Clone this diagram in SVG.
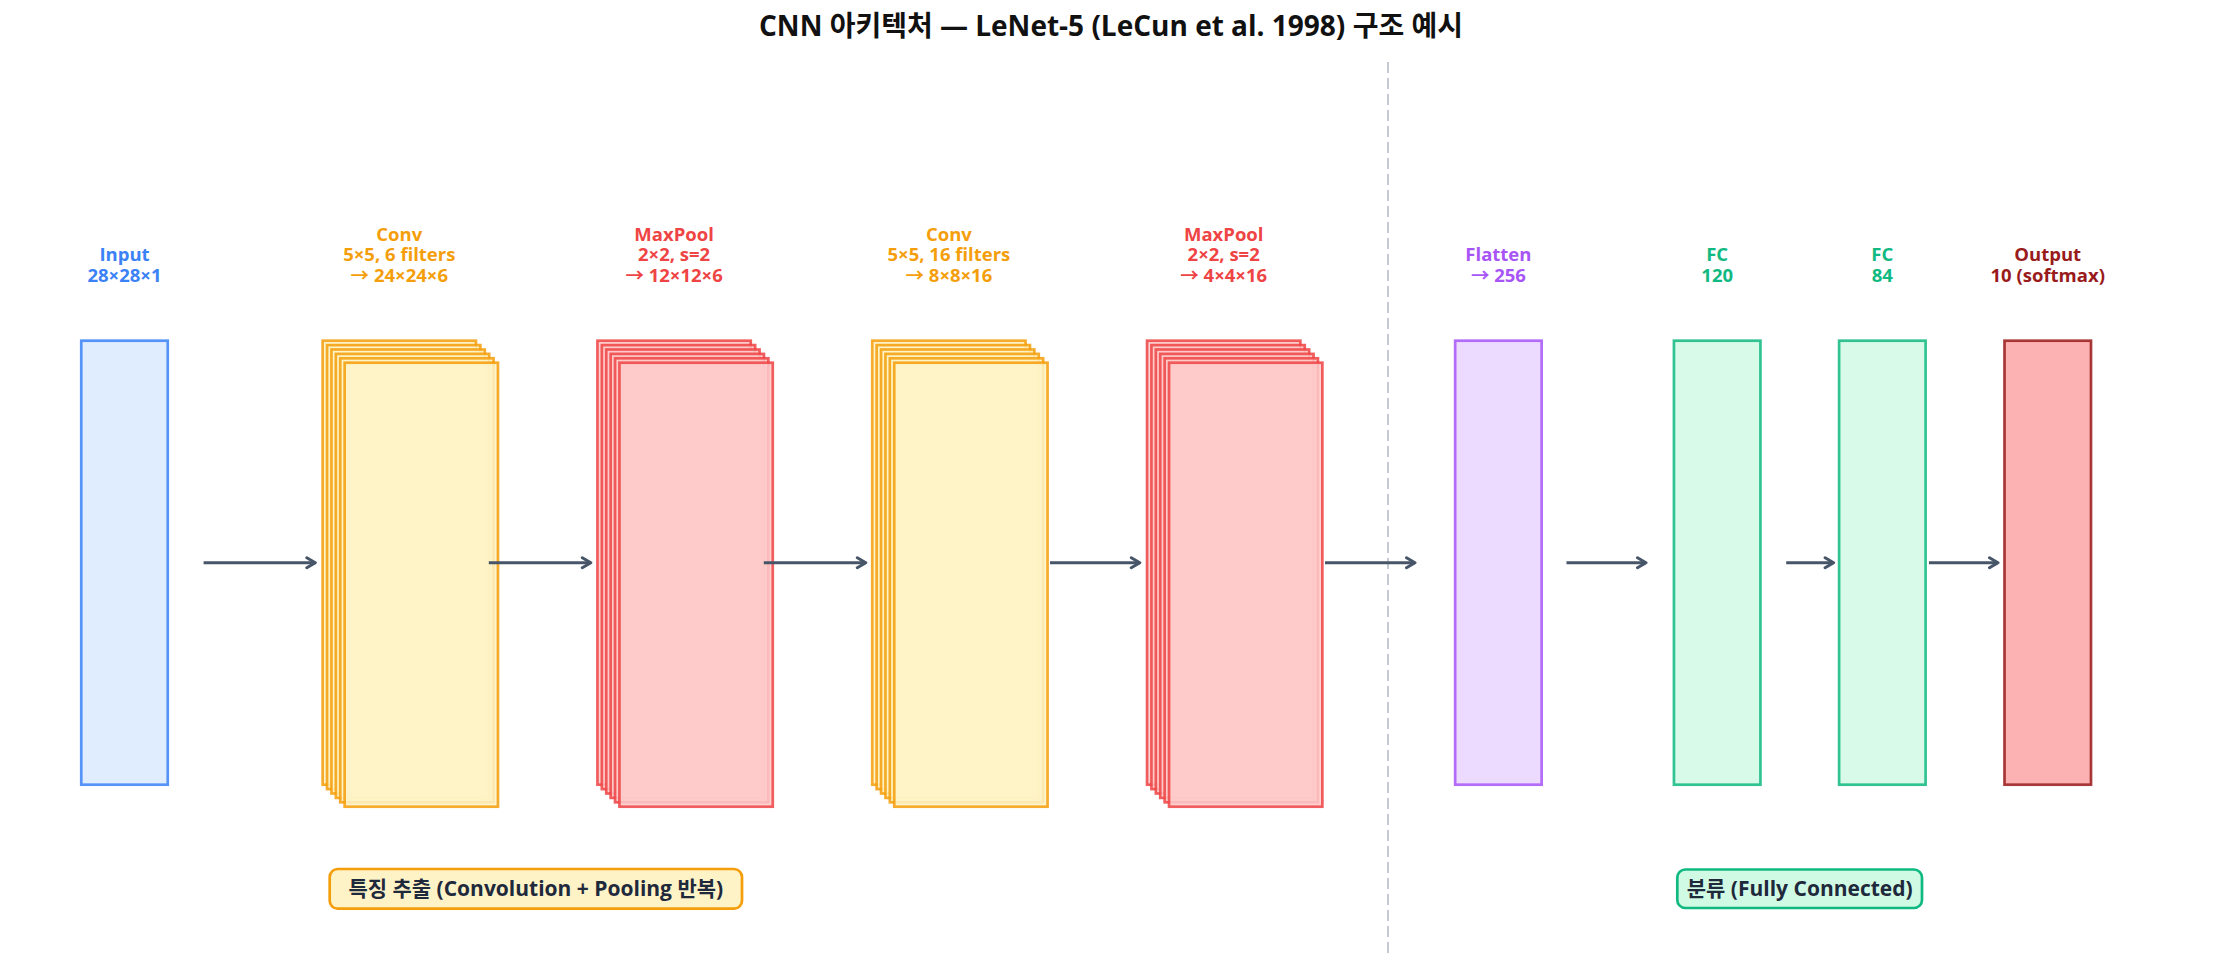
<svg xmlns="http://www.w3.org/2000/svg" width="2226" height="965" viewBox="0 0 2226 965">
<style>
text{font-family:"Open Sans","Noto Sans CJK KR",sans-serif;font-weight:bold;}
.lbl{font-size:18.5px;text-anchor:middle;}
.title{font-size:28px;text-anchor:middle;fill:#111111;}
.sec{font-size:21px;text-anchor:middle;fill:#1E293B;}
.n{stroke-width:2.7;fill-opacity:0.85;stroke-opacity:0.85;}
.blue{fill:#DBEAFE;stroke:#3B82F6;}
.amber{fill:#FEF3C7;stroke:#F59E0B;}
.red{fill:#FECACA;stroke:#EF4444;}
.purple{fill:#E9D5FF;stroke:#A855F7;}
.green{fill:#D1FAE5;stroke:#10B981;}
.out{fill:#FCA5A5;stroke:#991B1B;}
.arrow{stroke:#475569;stroke-width:3;fill:none;marker-end:url(#ah);}
</style>
<defs>
<marker id="ah" markerUnits="userSpaceOnUse" markerWidth="14" markerHeight="14" viewBox="-11 -7 14 14" refX="0" refY="0" orient="auto">
<path d="M-8.5,-5 L0,0 L-8.5,5" fill="none" stroke="#475569" stroke-width="3" stroke-linecap="round" stroke-linejoin="round"/>
</marker>
</defs>
<rect width="2226" height="965" fill="#FFFFFF"/>
<text class="title" x="1111" y="36">CNN 아키텍처 — LeNet-5 (LeCun et al. 1998) 구조 예시</text>
<line x1="1388" y1="62" x2="1388" y2="956" stroke="#C5CAD2" stroke-width="2" stroke-dasharray="11 5"/>

<g id="input">
<rect class="n blue" x="81.25" y="340.7" width="86.5" height="444"/>
<text class="lbl" fill="#3B82F6"><tspan x="124.5" y="261">Input</tspan><tspan x="124.5" y="281.5">28×28×1</tspan></text>
</g>

<g id="conv1">
<rect class="n amber" x="322.65" y="340.7" width="153.3" height="444"/>
<rect class="n amber" x="327.05" y="345.1" width="153.3" height="444"/>
<rect class="n amber" x="331.45" y="349.5" width="153.3" height="444"/>
<rect class="n amber" x="335.85" y="353.9" width="153.3" height="444"/>
<rect class="n amber" x="340.25" y="358.3" width="153.3" height="444"/>
<rect class="n amber" x="344.65" y="362.7" width="153.3" height="444"/>
<text class="lbl" fill="#F59E0B"><tspan x="399.3" y="240.5">Conv</tspan><tspan x="399.3" y="261">5×5, 6 filters</tspan><tspan x="399.3" y="281.5">→ 24×24×6</tspan></text>
</g>

<g id="pool1">
<rect class="n red" x="597.45" y="340.7" width="153.3" height="444"/>
<rect class="n red" x="601.85" y="345.1" width="153.3" height="444"/>
<rect class="n red" x="606.25" y="349.5" width="153.3" height="444"/>
<rect class="n red" x="610.65" y="353.9" width="153.3" height="444"/>
<rect class="n red" x="615.05" y="358.3" width="153.3" height="444"/>
<rect class="n red" x="619.45" y="362.7" width="153.3" height="444"/>
<text class="lbl" fill="#EF4444"><tspan x="674.1" y="240.5">MaxPool</tspan><tspan x="674.1" y="261">2×2, s=2</tspan><tspan x="674.1" y="281.5">→ 12×12×6</tspan></text>
</g>

<g id="conv2">
<rect class="n amber" x="872.25" y="340.7" width="153.3" height="444"/>
<rect class="n amber" x="876.65" y="345.1" width="153.3" height="444"/>
<rect class="n amber" x="881.05" y="349.5" width="153.3" height="444"/>
<rect class="n amber" x="885.45" y="353.9" width="153.3" height="444"/>
<rect class="n amber" x="889.85" y="358.3" width="153.3" height="444"/>
<rect class="n amber" x="894.25" y="362.7" width="153.3" height="444"/>
<text class="lbl" fill="#F59E0B"><tspan x="948.9" y="240.5">Conv</tspan><tspan x="948.9" y="261">5×5, 16 filters</tspan><tspan x="948.9" y="281.5">→ 8×8×16</tspan></text>
</g>

<g id="pool2">
<rect class="n red" x="1147.05" y="340.7" width="153.3" height="444"/>
<rect class="n red" x="1151.45" y="345.1" width="153.3" height="444"/>
<rect class="n red" x="1155.85" y="349.5" width="153.3" height="444"/>
<rect class="n red" x="1160.25" y="353.9" width="153.3" height="444"/>
<rect class="n red" x="1164.65" y="358.3" width="153.3" height="444"/>
<rect class="n red" x="1169.05" y="362.7" width="153.3" height="444"/>
<text class="lbl" fill="#EF4444"><tspan x="1223.7" y="240.5">MaxPool</tspan><tspan x="1223.7" y="261">2×2, s=2</tspan><tspan x="1223.7" y="281.5">→ 4×4×16</tspan></text>
</g>

<g id="flatten">
<rect class="n purple" x="1455.15" y="340.7" width="86.5" height="444"/>
<text class="lbl" fill="#A855F7"><tspan x="1498.4" y="261">Flatten</tspan><tspan x="1498.4" y="281.5">→ 256</tspan></text>
</g>

<g id="fc120">
<rect class="n green" x="1673.95" y="340.7" width="86.5" height="444"/>
<text class="lbl" fill="#10B981"><tspan x="1717.2" y="261">FC</tspan><tspan x="1717.2" y="281.5">120</tspan></text>
</g>

<g id="fc84">
<rect class="n green" x="1839.1" y="340.7" width="86.5" height="444"/>
<text class="lbl" fill="#10B981"><tspan x="1882.35" y="261">FC</tspan><tspan x="1882.35" y="281.5">84</tspan></text>
</g>

<g id="output">
<rect class="n out" x="2004.5" y="340.7" width="86.5" height="444"/>
<text class="lbl" fill="#991B1B"><tspan x="2047.75" y="261">Output</tspan><tspan x="2047.75" y="281.5">10 (softmax)</tspan></text>
</g>

<g id="connectors">
<line class="arrow" x1="203.6" y1="562.7" x2="315.3" y2="562.7"/>
<line class="arrow" x1="488.8" y1="562.7" x2="590.8" y2="562.7"/>
<line class="arrow" x1="763.8" y1="562.7" x2="865.8" y2="562.7"/>
<line class="arrow" x1="1050" y1="562.7" x2="1139.8" y2="562.7"/>
<line class="arrow" x1="1325" y1="562.7" x2="1415" y2="562.7"/>
<line class="arrow" x1="1566.5" y1="562.7" x2="1646" y2="562.7"/>
<line class="arrow" x1="1786.2" y1="562.7" x2="1833.6" y2="562.7"/>
<line class="arrow" x1="1929" y1="562.7" x2="1998" y2="562.7"/>
</g>

<g id="section-features">
<rect x="329.7" y="869" width="412.3" height="39.7" rx="8" ry="8" fill="#FEF3C7" stroke="#F59E0B" stroke-width="2.7"/>
<text class="sec" x="535.8" y="896">특징 추출 (Convolution + Pooling 반복)</text>
</g>

<g id="section-classify">
<rect x="1677.3" y="869.5" width="244.7" height="38.5" rx="8" ry="8" fill="#D1FAE5" stroke="#10B981" stroke-width="2.7"/>
<text class="sec" x="1799.7" y="896">분류 (Fully Connected)</text>
</g>
</svg>
